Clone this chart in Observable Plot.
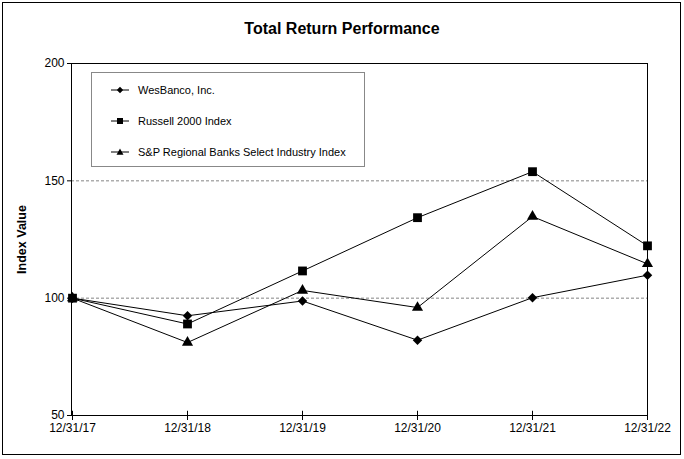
<!DOCTYPE html>
<html><head><meta charset="utf-8">
<script src="https://cdn.jsdelivr.net/npm/d3@7"></script>
<script src="https://cdn.jsdelivr.net/npm/@observablehq/plot@0.6"></script>
<style>
body{margin:0;background:#fff;font-family:Arial,"Liberation Sans",sans-serif;}
#wrap{position:relative;width:684px;height:459px;overflow:hidden;}
#border{position:absolute;left:2px;top:2px;width:677px;height:451px;border:1px solid #000;pointer-events:none;}
#title{position:absolute;left:0;top:20px;width:684px;text-align:center;font-weight:bold;font-size:16px;}
#legend{position:absolute;left:91px;top:72px;width:272px;height:93px;border:1px solid #888;background:#fff;font-size:11px;}
.li{position:absolute;left:19px;height:14px;display:flex;align-items:center;}
.li span{margin-left:9px;}
</style></head>
<body><div id="wrap"><div id="title">Total Return Performance</div><div id="border"></div></div>
<script>
const dates = ["12/31/17","12/31/18","12/31/19","12/31/20","12/31/21","12/31/22"];
const wesbanco = [100, 92.5, 98.8, 82.1, 100.2, 109.8];
const russell = [100, 89.0, 111.6, 134.3, 153.9, 122.3];
const spRegional = [100, 81.1, 103.3, 96.0, 134.8, 114.6];
const seriesNames = ["WesBanco, Inc.", "Russell 2000 Index", "S&P Regional Banks Select Industry Index"];
const symbols = ["diamond2", "square2", "triangle2"];
const sizes = [4.3, 5.6, 5.3];
const yTicks = [50, 100, 150, 200];
const gridValues = [100, 150];

const allSeries = [wesbanco, russell, spRegional];
const data = [];
allSeries.forEach((vals, si) => vals.forEach((v, i) => data.push({series: seriesNames[si], date: dates[i], value: v, si})));

const marks = [
  Plot.ruleY(gridValues, {stroke: "#666", strokeDasharray: "3,2", strokeWidth: 0.8}),
  Plot.frame({stroke: "#000"}),
  Plot.ruleX(dates, {x: d => d, y1: 50, y2: 51.8, stroke: "#000"}),
  Plot.axisX({tickSize: 5, tickPadding: 3, label: null, fontSize: 12}),
  Plot.axisY({ticks: yTicks, tickSize: 4, tickPadding: 3, fontSize: 12, label: "Index Value", labelAnchor: "center", labelArrow: "none", labelOffset: 54})
];
seriesNames.forEach((name, si) => {
  const d = data.filter(r => r.si === si);
  marks.push(Plot.line(d, {x: "date", y: "value", stroke: "#000", strokeWidth: 1}));
  marks.push(Plot.dot(d, {x: "date", y: "value", symbol: () => symbols[si], r: sizes[si], fill: "#000", stroke: "none"}));
});

const chart = Plot.plot({
  width: 684, height: 459,
  marginLeft: 71, marginRight: 37, marginTop: 63, marginBottom: 44,
  style: {fontFamily: "Arial, 'Liberation Sans', sans-serif", fontSize: "12px", color: "#000", background: "transparent"},
  x: {type: "point", domain: dates, padding: 0},
  y: {domain: [50, 200]},
  symbol: {type: "identity"},
  marks
});
chart.style.position = "absolute";
chart.style.left = "0"; chart.style.top = "0";
const wrap = document.getElementById("wrap");
wrap.insertBefore(chart, document.getElementById("border"));
// bold y-axis label
d3.select(chart).selectAll("[aria-label='y-axis label'], [aria-label='y-axis label'] text")
  .attr("font-weight", "bold").attr("font-size", "12.5px");

// legend
const legend = document.createElement("div");
legend.id = "legend";
const tops = [10, 41, 72];
const legendSym = {diamond2: "M0,-3.2L3.2,0L0,3.2L-3.2,0Z", square2: "M-3,-3H3V3H-3Z", triangle2: "M0,-3.5L3.5,2.8H-3.5Z"};
seriesNames.forEach((name, si) => {
  const el = document.createElement("div");
  el.className = "li";
  el.style.top = tops[si] + "px";
  el.innerHTML = `<svg width="18" height="10"><line x1="0" x2="18" y1="5" y2="5" stroke="#000"/><path transform="translate(9,5)" d="${legendSym[symbols[si]]}" fill="#000"/></svg><span>${name}</span>`;
  legend.appendChild(el);
});
wrap.appendChild(legend);
</script></body></html>
